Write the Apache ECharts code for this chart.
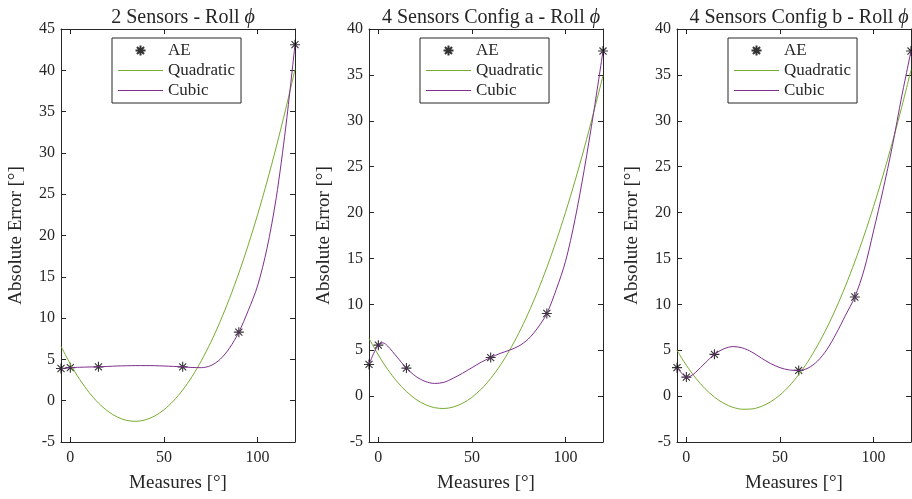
<!DOCTYPE html>
<html>
<head>
<meta charset="utf-8">
<script src="https://cdn.jsdelivr.net/npm/echarts@6/dist/echarts.min.js"></script>
<style>
  html, body { margin: 0; padding: 0; background: #ffffff; }
  #chart { width: 912px; height: 499px; }
</style>
</head>
<body>
<div id="chart"></div>
<script>
// Measurement angles (deg) where the absolute error was evaluated
const measureX = [-5, 0, 15, 60, 90, 120];

// Absolute error at each measurement, one array per configuration
const aeTwoSensors = [3.9, 4.0, 4.1, 4.1, 8.3, 43.1];
const aeConfigA = [3.45, 5.55, 3.05, 4.2, 9.0, 37.6];
const aeConfigB = [3.1, 2.07, 4.55, 2.8, 10.8, 37.6];

// Abscissae of the fitted curves
const fitX = [-5, -2.5, 0, 2.5, 5, 10, 15, 20, 25, 30, 35, 40, 45, 50, 55, 60,
              65, 70, 75, 80, 85, 90, 95, 100, 105, 110, 115, 120];

// Quadratic fits
const quadTwoSensors = [6.6, 5.48, 4.44, 3.47, 2.57, 1.0, -0.28, -1.27, -1.97, -2.38, -2.5, -2.32, -1.86, -1.1,
                        -0.05, 1.29, 2.92, 4.85, 7.06, 9.57, 12.37, 15.46, 18.84, 22.51, 26.48, 30.73, 35.28, 40.1];
const quadConfigA = [6.3, 5.36, 4.48, 3.66, 2.9, 1.57, 0.5, -0.34, -0.92, -1.26, -1.35, -1.19, -0.78, -0.13,
                     0.77, 1.92, 3.32, 4.96, 6.85, 8.99, 11.38, 14.02, 16.9, 20.03, 23.41, 27.03, 30.91, 34.9];
const quadConfigB = [5.0, 4.14, 3.36, 2.63, 1.96, 0.81, -0.11, -0.79, -1.23, -1.43, -1.4, -1.13, -0.62, 0.12,
                     1.11, 2.33, 3.79, 5.49, 7.42, 9.59, 12.0, 14.65, 17.53, 20.66, 24.02, 27.62, 31.45, 35.52];

// Cubic fits
const cubicTwoSensors = [3.9, 3.95, 4.0, 4.03, 4.05, 4.08, 4.1, 4.15, 4.2, 4.23, 4.25, 4.25, 4.24, 4.2,
                         4.15, 4.1, 4.02, 4.0, 4.25, 5.0, 6.36, 8.3, 10.9, 13.9, 18.4, 24.6, 33.0, 43.1];
const cubicConfigA = [3.45, 4.65, 5.55, 5.8, 5.45, 4.25, 3.05, 2.15, 1.6, 1.38, 1.5, 1.95, 2.5, 3.1,
                      3.7, 4.2, 4.65, 5.0, 5.45, 6.2, 7.4, 9.0, 11.6, 14.7, 19.2, 24.7, 30.9, 37.6];
const cubicConfigB = [3.1, 2.5, 2.07, 2.2, 2.6, 3.6, 4.55, 5.15, 5.4, 5.25, 4.8, 4.15, 3.55, 3.1,
                      2.85, 2.8, 3.05, 3.8, 5.05, 6.8, 8.8, 10.8, 13.8, 18.0, 22.4, 27.2, 32.6, 37.6];

// Panel titles (the roll symbol is appended in italics)
const panelTitles = ['2 Sensors - Roll', '4 Sensors Config a - Roll', '4 Sensors Config b - Roll'];
const yMaxes = [45, 40, 40];
const xTickValues = [0, 50, 100];

const aeSets = [aeTwoSensors, aeConfigA, aeConfigB];
const quadSets = [quadTwoSensors, quadConfigA, quadConfigB];
const cubicSets = [cubicTwoSensors, cubicConfigA, cubicConfigB];

const FONT = '"Liberation Serif", "DejaVu Serif", serif';
const INK = '#262626';
const GREEN = '#77AC30';
const PURPLE = '#7E2F8E';
const ASTERISK = 'path://M0,-10L0,10M-10,0L10,0M-7.07,-7.07L7.07,7.07M-7.07,7.07L7.07,-7.07';
// thin bar used as the legend sample of a fitted line
const LINE_ICON = 'path://M0,0L45,0L45,1L0,1Z';

const pair = (xs, ys) => xs.map((x, i) => [x, ys[i]]);

const gridLefts = [61, 369, 677];
const gridW = 234, gridTop = 29, gridH = 413;

const grid = [], xAxis = [], yAxis = [], series = [], title = [], legend = [];

gridLefts.forEach((left, p) => {
  grid.push({ left: left, top: gridTop, width: gridW, height: gridH, containLabel: false });

  title.push({
    text: panelTitles[p] + ' {i|ϕ}',
    left: left + gridW / 2,
    top: 3,
    textAlign: 'center',
    textStyle: {
      fontFamily: FONT, fontSize: 20, fontWeight: 'normal', color: INK,
      rich: { i: { fontFamily: FONT, fontSize: 20, fontStyle: 'italic', color: INK } }
    }
  });

  // bottom x axis with labels, top x axis as the frame with ticks
  xAxis.push({
    gridIndex: p, type: 'value', min: -5, max: 120, position: 'bottom',
    name: 'Measures [°]', nameLocation: 'middle', nameGap: 32,
    nameTextStyle: { fontFamily: FONT, fontSize: 19, color: INK },
    axisLine: { show: true, onZero: false, lineStyle: { color: INK, width: 1 } },
    axisTick: { show: true, inside: true, length: 5, customValues: xTickValues, lineStyle: { color: INK } },
    axisLabel: { customValues: xTickValues, fontFamily: FONT, fontSize: 16, color: INK, margin: 8 },
    splitLine: { show: false }
  });
  xAxis.push({
    gridIndex: p, type: 'value', min: -5, max: 120, position: 'top',
    axisLine: { show: true, onZero: false, lineStyle: { color: INK, width: 1 } },
    axisTick: { show: true, inside: true, length: 5, customValues: xTickValues, lineStyle: { color: INK } },
    axisLabel: { show: false },
    splitLine: { show: false }
  });

  yAxis.push({
    gridIndex: p, type: 'value', min: -5, max: yMaxes[p], interval: 5, position: 'left',
    name: 'Absolute Error [°]', nameLocation: 'middle', nameGap: 35,
    nameTextStyle: { fontFamily: FONT, fontSize: 19, color: INK },
    axisLine: { show: true, onZero: false, lineStyle: { color: INK, width: 1 } },
    axisTick: { show: true, inside: true, length: 5, lineStyle: { color: INK } },
    axisLabel: { fontFamily: FONT, fontSize: 16, color: INK, margin: 6 },
    splitLine: { show: false }
  });
  yAxis.push({
    gridIndex: p, type: 'value', min: -5, max: yMaxes[p], interval: 5, position: 'right',
    axisLine: { show: true, onZero: false, lineStyle: { color: INK, width: 1 } },
    axisTick: { show: true, inside: true, length: 5, lineStyle: { color: INK } },
    axisLabel: { show: false },
    splitLine: { show: false }
  });

  series.push({
    name: 'AE', type: 'scatter', xAxisIndex: 2 * p, yAxisIndex: 2 * p,
    symbol: ASTERISK, symbolSize: 10,
    itemStyle: { color: 'none', borderColor: '#000000', borderWidth: 1.1 },
    data: pair(measureX, aeSets[p]), z: 2
  });
  series.push({
    name: 'Quadratic', type: 'line', xAxisIndex: 2 * p, yAxisIndex: 2 * p,
    symbol: 'none', smooth: 0.3,
    lineStyle: { color: GREEN, width: 1 }, itemStyle: { color: GREEN },
    data: pair(fitX, quadSets[p]), z: 3
  });
  series.push({
    name: 'Cubic', type: 'line', xAxisIndex: 2 * p, yAxisIndex: 2 * p,
    symbol: 'none', smooth: 0.3,
    lineStyle: { color: PURPLE, width: 1 }, itemStyle: { color: PURPLE },
    data: pair(fitX, cubicSets[p]), z: 4
  });

  legend.push({
    orient: 'vertical',
    left: left + 51, top: 38,
    data: [
      { name: 'AE' },
      { name: 'Quadratic', icon: LINE_ICON, itemStyle: { color: GREEN, borderWidth: 0 } },
      { name: 'Cubic', icon: LINE_ICON, itemStyle: { color: PURPLE, borderWidth: 0 } }
    ],
    itemWidth: 45, itemHeight: 10, itemGap: 3,
    padding: [4, 6, 4, 6],
    borderColor: INK, borderWidth: 1, backgroundColor: '#ffffff',
    selectedMode: false,
    textStyle: { fontFamily: FONT, fontSize: 17, color: INK }
  });
});

const chart = echarts.init(document.getElementById('chart'), null, { renderer: 'canvas' });
chart.setOption({
  animation: false,
  backgroundColor: '#ffffff',
  title, legend, grid, xAxis, yAxis, series
});
</script>
</body>
</html>
